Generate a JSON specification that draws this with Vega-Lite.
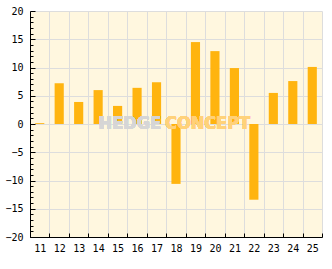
{
  "$schema": "https://vega.github.io/schema/vega-lite/v6.json",
  "width": 292,
  "height": 226,
  "autosize": "none",
  "padding": {"left": 30, "top": 11, "right": 10, "bottom": 32},
  "background": "white",
  "config": {
    "view": {"fill": "#FFF7DF", "stroke": null},
    "font": "DejaVu Sans Mono",
    "axis": {"labelFont": "DejaVu Sans Mono", "labelFontSize": 10, "labelColor": "black", "domainColor": "black", "tickColor": "black", "gridColor": "#DDDDDD", "gridWidth": 1, "domainWidth": 1, "tickWidth": 1, "title": null}
  },
  "data": {
    "values": [
      {"day": 11, "value": 0.15},
      {"day": 12, "value": 7.2},
      {"day": 13, "value": 3.9},
      {"day": 14, "value": 6.0},
      {"day": 15, "value": 3.2},
      {"day": 16, "value": 6.4},
      {"day": 17, "value": 7.4},
      {"day": 18, "value": -10.6},
      {"day": 19, "value": 14.5},
      {"day": 20, "value": 12.9},
      {"day": 21, "value": 9.9},
      {"day": 22, "value": -13.4},
      {"day": 23, "value": 5.5},
      {"day": 24, "value": 7.6},
      {"day": 25, "value": 10.1}
    ]
  },
  "encoding": {
    "x": {
      "field": "day",
      "type": "ordinal",
      "scale": {"paddingInner": 0, "paddingOuter": 0},
      "axis": {"labelAngle": 0, "tickBand": "extent", "tickSize": -4, "labelPadding": 10, "grid": true}
    }
  },
  "layer": [
    {
      "mark": {"type": "bar", "color": "#FFB40F", "width": {"band": 0.47}},
      "encoding": {
        "y": {
          "field": "value",
          "type": "quantitative",
          "scale": {"domain": [-20, 20], "nice": false},
          "axis": {"values": [-20, -15, -10, -5, 0, 5, 10, 15, 20], "tickSize": -5, "labelPadding": 12, "grid": true, "orient": "left"}
        }
      }
    },
    {
      "mark": {"type": "bar", "opacity": 0, "width": {"band": 0.47}},
      "encoding": {
        "y": {
          "field": "value",
          "type": "quantitative",
          "scale": {"domain": [-20, 20], "nice": false},
          "axis": {"orient": "left", "values": [-19,-18,-17,-16,-14,-13,-12,-11,-9,-8,-7,-6,-4,-3,-2,-1,1,2,3,4,6,7,8,9,11,12,13,14,16,17,18,19], "tickSize": -3, "labels": false, "grid": false, "domain": false}
        }
      }
    },
    {
      "mark": {"type": "text", "text": "HEDGE", "font": "'DejaVu Sans Condensed', 'Liberation Sans Narrow', Roboto, sans-serif", "fontWeight": "bold", "fontSize": 18, "align": "right", "baseline": "middle", "color": "#D6D6D6", "opacity": 0.75, "dx": -15},
      "encoding": {"x": {"datum": 18}, "y": {"datum": 0, "axis": null}}
    },
    {
      "mark": {"type": "text", "text": "CONCEPT", "font": "'DejaVu Sans Condensed', 'Liberation Sans Narrow', Roboto, sans-serif", "fontWeight": "bold", "fontSize": 18, "align": "left", "baseline": "middle", "color": "#FFD27A", "opacity": 0.8, "dx": -11},
      "encoding": {"x": {"datum": 18}, "y": {"datum": 0, "axis": null}}
    }
  ],
  "resolve": {"axis": {"y": "independent"}}
}
